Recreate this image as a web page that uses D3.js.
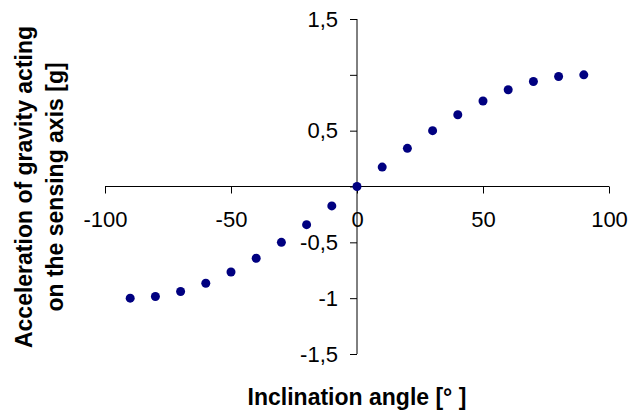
<!DOCTYPE html>
<html>
<head>
<meta charset="utf-8">
<script src="https://cdn.jsdelivr.net/npm/d3@7"></script>
<style>
    body { margin: 0; background: #fff; }
    text { font-family: "Liberation Sans", Arial, sans-serif; }
</style>
</head>
<body>
<div id="chart"></div>
<script>
const angles = [-90, -80, -70, -60, -50, -40, -30, -20, -10, 0, 10, 20, 30, 40, 50, 60, 70, 80, 90];
const accel = [-1, -0.985, -0.94, -0.866, -0.766, -0.643, -0.5, -0.342, -0.174, 0,
    0.174, 0.342, 0.5, 0.643, 0.766, 0.866, 0.94, 0.985, 1];
const xTicks = [-100, -50, 0, 50, 100];
const yTicks = [-1.5, -1, -0.5, 0, 0.5, 1, 1.5];
const yTickLabels = ["-1,5", "-1", "-0,5", "", "0,5", "", "1,5"];

const width = 644, height = 410;

const svg = d3.select("#chart")
    .append("svg")
    .attr("width", width)
    .attr("height", height);

const x = d3.scaleLinear().domain([-100, 100]).range([105, 609]);
const y = d3.scaleLinear().domain([-1.5, 1.5]).range([354, 19]);

// x axis through y = 0
const xAxis = svg.append("g")
    .attr("transform", `translate(0,${y(0)})`)
    .call(d3.axisBottom(x).tickValues(xTicks).tickSize(7).tickPadding(18)
        .tickFormat(d => d));
xAxis.select(".domain").attr("d", `M${x(-100)},0H${x(100)}`);

// y axis through x = 0
const yAxis = svg.append("g")
    .attr("transform", `translate(${x(0)},0)`)
    .call(d3.axisLeft(y).tickValues(yTicks).tickSize(7).tickPadding(12)
        .tickFormat((d, i) => yTickLabels[i]));
yAxis.select(".domain").attr("d", `M0,${y(1.5)}V${y(-1.5)}`);

svg.selectAll(".tick text")
    .attr("font-size", 22)
    .attr("fill", "#000")
    .style("font-family", "'Liberation Sans', Arial, sans-serif");
svg.selectAll(".domain, .tick line").attr("stroke", "#000");

svg.append("g")
    .selectAll("circle")
    .data(angles)
    .enter()
    .append("circle")
    .attr("cx", d => x(d))
    .attr("cy", (d, i) => y(accel[i]))
    .attr("r", 4.5)
    .attr("fill", "#000080");

svg.append("text")
    .attr("x", 357)
    .attr("y", 405)
    .attr("text-anchor", "middle")
    .attr("font-size", 23)
    .attr("font-weight", "bold")
    .text("Inclination angle [° ]");

const yTitle = svg.append("text")
    .attr("transform", "translate(0,187) rotate(-90)")
    .attr("text-anchor", "middle")
    .attr("font-size", 23)
    .attr("font-weight", "bold");
yTitle.append("tspan").attr("x", 0).attr("y", 32).text("Acceleration of gravity acting");
yTitle.append("tspan").attr("x", 0).attr("y", 63).text("on the sensing axis [g]");
</script>
</body>
</html>
